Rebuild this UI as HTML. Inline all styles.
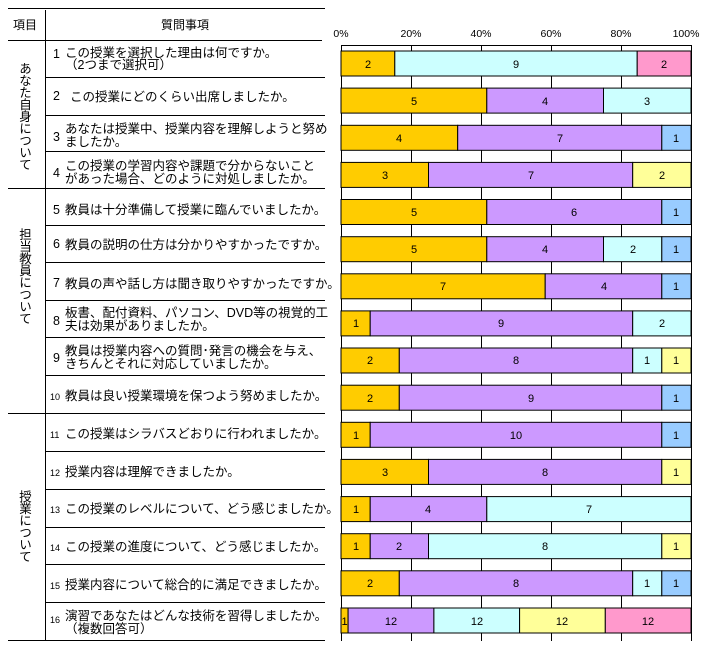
<!DOCTYPE html>
<html><head><meta charset="utf-8"><style>
body{margin:0;background:#fff;width:707px;height:663px;overflow:hidden;position:relative;font-family:"Liberation Sans","Noto Sans CJK JP",sans-serif}
.v{position:absolute;writing-mode:vertical-rl;font-size:12.5px;line-height:14px;color:#000;letter-spacing:-0.5px}
svg text{font-family:"Liberation Sans","Noto Sans CJK JP",sans-serif;fill:#000}
</style></head><body>
<svg width="707" height="663" style="position:absolute;left:0;top:0">
<g stroke="#000" stroke-width="1">
<line x1="8" y1="8.5" x2="325" y2="8.5"/>
<line x1="8" y1="40.5" x2="322" y2="40.5"/>
<line x1="45.5" y1="10" x2="45.5" y2="640"/>
<line x1="45" y1="77.5" x2="325" y2="77.5"/>
<line x1="45" y1="115.5" x2="325" y2="115.5"/>
<line x1="45" y1="151.5" x2="325" y2="151.5"/>
<line x1="8" y1="188.5" x2="325" y2="188.5"/>
<line x1="45" y1="225.5" x2="325" y2="225.5"/>
<line x1="45" y1="262.5" x2="325" y2="262.5"/>
<line x1="45" y1="300.5" x2="325" y2="300.5"/>
<line x1="45" y1="337.5" x2="325" y2="337.5"/>
<line x1="45" y1="375.5" x2="325" y2="375.5"/>
<line x1="8" y1="413.5" x2="325" y2="413.5"/>
<line x1="45" y1="451.5" x2="325" y2="451.5"/>
<line x1="45" y1="489.5" x2="325" y2="489.5"/>
<line x1="45" y1="527.5" x2="325" y2="527.5"/>
<line x1="45" y1="564.5" x2="325" y2="564.5"/>
<line x1="45" y1="602.5" x2="325" y2="602.5"/>
<line x1="8" y1="640.5" x2="325" y2="640.5"/>
</g>
<g font-size="12">
<text x="13" y="29">項目</text>
<text x="185" y="29" text-anchor="middle">質問事項</text>
<g font-size="12.5">
<text x="53" y="58">1</text><text x="65" y="57">この授業を選択した理由は何ですか。</text><text x="65" y="69">（2つまで選択可）</text>
<text x="53" y="100">2</text><text x="70" y="101">この授業にどのくらい出席しましたか。</text>
<text x="53" y="141">3</text><text x="65" y="133">あなたは授業中、授業内容を理解しようと努め</text><text x="65" y="146">ましたか。</text>
<text x="53" y="177">4</text><text x="65" y="170">この授業の学習内容や課題で分からないこと</text><text x="65" y="183">があった場合、どのように対処しましたか。</text>
<text x="53" y="214">5</text><text x="65" y="214">教員は十分準備して授業に臨んでいましたか。</text>
<text x="53" y="248">6</text><text x="65" y="249">教員の説明の仕方は分かりやすかったですか。</text>
<text x="53" y="287">7</text><text x="65" y="288">教員の声や話し方は聞き取りやすかったですか。</text>
<text x="53" y="325">8</text><text x="65" y="317">板書、配付資料、パソコン、DVD等の視覚的工</text><text x="65" y="330">夫は効果がありましたか。</text>
<text x="53" y="362">9</text><text x="65" y="355">教員は授業内容への質問･発言の機会を与え、</text><text x="65" y="368">きちんとそれに対応していましたか。</text>
<text x="65" y="400">教員は良い授業環境を保つよう努めましたか。</text>
<text x="65" y="438">この授業はシラバスどおりに行われましたか。</text>
<text x="65" y="476">授業内容は理解できましたか。</text>
<text x="65" y="513">この授業のレベルについて、どう感じましたか。</text>
<text x="65" y="551">この授業の進度について、どう感じましたか。</text>
<text x="65" y="589">授業内容について総合的に満足できましたか。</text>
<text x="65" y="620">演習であなたはどんな技術を習得しましたか。</text><text x="65" y="633">（複数回答可）</text>
</g>
<g font-size="9">
<text x="50" y="400">10</text><text x="50" y="438">11</text><text x="50" y="476">12</text><text x="50" y="513">13</text><text x="50" y="551">14</text><text x="50" y="589">15</text><text x="50" y="623">16</text>
</g>
</g>
<g font-size="10.5" text-anchor="middle">
<text x="341" y="37">0%</text><text x="411" y="37">20%</text><text x="481" y="37">40%</text><text x="551" y="37">60%</text><text x="621" y="37">80%</text><text x="686" y="37">100%</text>
</g>
<g stroke="#000" stroke-width="1">
<line x1="341" y1="45.5" x2="691" y2="45.5"/>
<line x1="341.5" y1="45" x2="341.5" y2="641"/>
<line x1="411.5" y1="45" x2="411.5" y2="641"/>
<line x1="481.5" y1="45" x2="481.5" y2="641"/>
<line x1="551.5" y1="45" x2="551.5" y2="641"/>
<line x1="621.5" y1="45" x2="621.5" y2="641"/>
<line x1="691.5" y1="45" x2="691.5" y2="641"/>
</g>
<g stroke="#000" stroke-width="1">
<rect x="341" y="51" width="53.8" height="25" fill="#FFCC00"/><rect x="394.8" y="51" width="242.4" height="25" fill="#CCFFFF"/><rect x="637.2" y="51" width="53.8" height="25" fill="#FF99CC"/>
<rect x="341" y="88.1" width="145.8" height="25" fill="#FFCC00"/><rect x="486.8" y="88.1" width="116.7" height="25" fill="#CC99FF"/><rect x="603.5" y="88.1" width="87.5" height="25" fill="#CCFFFF"/>
<rect x="341" y="125.3" width="116.7" height="25" fill="#FFCC00"/><rect x="457.7" y="125.3" width="204.1" height="25" fill="#CC99FF"/><rect x="661.8" y="125.3" width="29.2" height="25" fill="#99CCFF"/>
<rect x="341" y="162.4" width="87.5" height="25" fill="#FFCC00"/><rect x="428.5" y="162.4" width="204.2" height="25" fill="#CC99FF"/><rect x="632.7" y="162.4" width="58.3" height="25" fill="#FFFF99"/>
<rect x="341" y="199.5" width="145.8" height="25" fill="#FFCC00"/><rect x="486.8" y="199.5" width="175" height="25" fill="#CC99FF"/><rect x="661.8" y="199.5" width="29.2" height="25" fill="#99CCFF"/>
<rect x="341" y="236.7" width="145.8" height="25" fill="#FFCC00"/><rect x="486.8" y="236.7" width="116.7" height="25" fill="#CC99FF"/><rect x="603.5" y="236.7" width="58.3" height="25" fill="#CCFFFF"/><rect x="661.8" y="236.7" width="29.2" height="25" fill="#99CCFF"/>
<rect x="341" y="273.8" width="204.2" height="25" fill="#FFCC00"/><rect x="545.2" y="273.8" width="116.6" height="25" fill="#CC99FF"/><rect x="661.8" y="273.8" width="29.2" height="25" fill="#99CCFF"/>
<rect x="341" y="310.9" width="29.2" height="25" fill="#FFCC00"/><rect x="370.2" y="310.9" width="262.5" height="25" fill="#CC99FF"/><rect x="632.7" y="310.9" width="58.3" height="25" fill="#CCFFFF"/>
<rect x="341" y="348" width="58.3" height="25" fill="#FFCC00"/><rect x="399.3" y="348" width="233.4" height="25" fill="#CC99FF"/><rect x="632.7" y="348" width="29.1" height="25" fill="#CCFFFF"/><rect x="661.8" y="348" width="29.2" height="25" fill="#FFFF99"/>
<rect x="341" y="385.2" width="58.3" height="25" fill="#FFCC00"/><rect x="399.3" y="385.2" width="262.5" height="25" fill="#CC99FF"/><rect x="661.8" y="385.2" width="29.2" height="25" fill="#99CCFF"/>
<rect x="341" y="422.3" width="29.2" height="25" fill="#FFCC00"/><rect x="370.2" y="422.3" width="291.6" height="25" fill="#CC99FF"/><rect x="661.8" y="422.3" width="29.2" height="25" fill="#99CCFF"/>
<rect x="341" y="459.4" width="87.5" height="25" fill="#FFCC00"/><rect x="428.5" y="459.4" width="233.3" height="25" fill="#CC99FF"/><rect x="661.8" y="459.4" width="29.2" height="25" fill="#FFFF99"/>
<rect x="341" y="496.6" width="29.2" height="25" fill="#FFCC00"/><rect x="370.2" y="496.6" width="116.6" height="25" fill="#CC99FF"/><rect x="486.8" y="496.6" width="204.2" height="25" fill="#CCFFFF"/>
<rect x="341" y="533.7" width="29.2" height="25" fill="#FFCC00"/><rect x="370.2" y="533.7" width="58.3" height="25" fill="#CC99FF"/><rect x="428.5" y="533.7" width="233.3" height="25" fill="#CCFFFF"/><rect x="661.8" y="533.7" width="29.2" height="25" fill="#FFFF99"/>
<rect x="341" y="570.8" width="58.3" height="25" fill="#FFCC00"/><rect x="399.3" y="570.8" width="233.4" height="25" fill="#CC99FF"/><rect x="632.7" y="570.8" width="29.1" height="25" fill="#CCFFFF"/><rect x="661.8" y="570.8" width="29.2" height="25" fill="#99CCFF"/>
<rect x="341" y="608" width="7.1" height="25" fill="#FFCC00"/><rect x="348.1" y="608" width="85.8" height="25" fill="#CC99FF"/><rect x="433.9" y="608" width="85.7" height="25" fill="#CCFFFF"/><rect x="519.6" y="608" width="85.7" height="25" fill="#FFFF99"/><rect x="605.3" y="608" width="85.7" height="25" fill="#FF99CC"/>
</g>
<g font-size="11" text-anchor="middle">
<text x="368" y="68">2</text><text x="516" y="68">9</text><text x="664" y="68">2</text>
<text x="414" y="105">5</text><text x="545" y="105">4</text><text x="647" y="105">3</text>
<text x="399" y="142">4</text><text x="560" y="142">7</text><text x="676" y="142">1</text>
<text x="385" y="179">3</text><text x="531" y="179">7</text><text x="662" y="179">2</text>
<text x="414" y="216">5</text><text x="574" y="216">6</text><text x="676" y="216">1</text>
<text x="414" y="253">5</text><text x="545" y="253">4</text><text x="633" y="253">2</text><text x="676" y="253">1</text>
<text x="443" y="290">7</text><text x="604" y="290">4</text><text x="676" y="290">1</text>
<text x="356" y="327">1</text><text x="501" y="327">9</text><text x="662" y="327">2</text>
<text x="370" y="364">2</text><text x="516" y="364">8</text><text x="647" y="364">1</text><text x="676" y="364">1</text>
<text x="370" y="402">2</text><text x="531" y="402">9</text><text x="676" y="402">1</text>
<text x="356" y="439">1</text><text x="516" y="439">10</text><text x="676" y="439">1</text>
<text x="385" y="476">3</text><text x="545" y="476">8</text><text x="676" y="476">1</text>
<text x="356" y="513">1</text><text x="428" y="513">4</text><text x="589" y="513">7</text>
<text x="356" y="550">1</text><text x="399" y="550">2</text><text x="545" y="550">8</text><text x="676" y="550">1</text>
<text x="370" y="587">2</text><text x="516" y="587">8</text><text x="647" y="587">1</text><text x="676" y="587">1</text>
<text x="344.5" y="625">1</text><text x="391" y="625">12</text><text x="477" y="625">12</text><text x="562" y="625">12</text><text x="648" y="625">12</text>
</g>
</svg>
<div class="v" style="left:17px;top:62px">あなた自身について</div>
<div class="v" style="left:17px;top:228px">担当教員について</div>
<div class="v" style="left:17px;top:490px">授業について</div>
</body></html>
